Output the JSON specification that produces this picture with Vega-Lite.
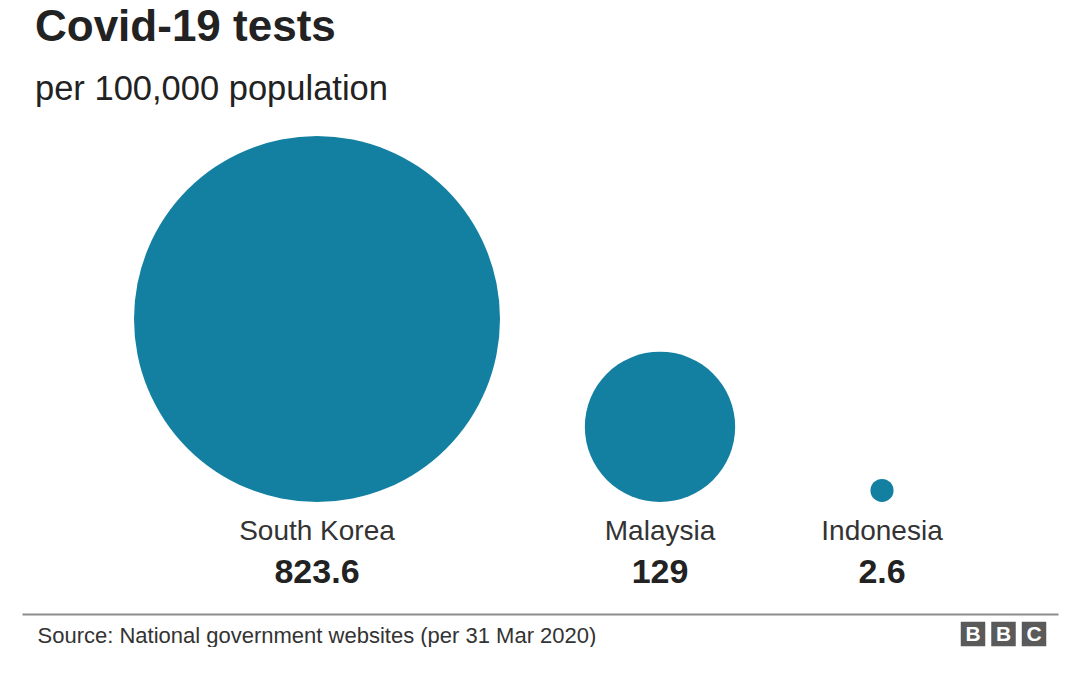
{
  "$schema": "https://vega.github.io/schema/vega-lite/v6.json",
  "width": 1080,
  "height": 494,
  "padding": {"top": 5, "left": 0, "right": 0, "bottom": 0},
  "autosize": {"type": "pad"},
  "background": "white",
  "config": {"view": {"stroke": null}},
  "title": {
    "text": "Covid-19 tests",
    "subtitle": "per 100,000 population",
    "anchor": "start",
    "frame": "group",
    "dx": 35,
    "offset": 14,
    "font": "Liberation Sans",
    "fontSize": 44,
    "fontWeight": "bold",
    "color": "#222222",
    "subtitleFont": "Liberation Sans",
    "subtitleFontSize": 34.5,
    "subtitleColor": "#222222",
    "subtitlePadding": 23
  },
  "datasets": {
    "tests": [
      {"country": "South Korea", "tests": 823.6},
      {"country": "Malaysia", "tests": 129},
      {"country": "Indonesia", "tests": 2.6}
    ],
    "logo": [
      {"id": "b1", "letter": "B"},
      {"id": "b2", "letter": "B"},
      {"id": "c", "letter": "C"}
    ]
  },
  "resolve": {"scale": {"x": "independent"}, "axis": {"x": "independent"}},
  "layer": [
    {
      "data": {"name": "tests"},
      "encoding": {
        "x": {
          "field": "tests",
          "type": "quantitative",
          "scale": {"domain": [0, 2.6, 129, 823.6, 1000], "range": [1058, 882, 660, 317, 22], "nice": false, "zero": false},
          "axis": {
            "orient": "bottom",
            "labels": false,
            "ticks": false,
            "grid": false,
            "domain": true,
            "domainColor": "#8c8c8c",
            "domainWidth": 2,
            "title": "Source: National government websites (per 31 Mar 2020)",
            "titleFont": "Liberation Sans",
            "titleFontSize": 22,
            "titleFontWeight": "normal",
            "titleColor": "#333333",
            "titleAlign": "left",
            "titleAnchor": "start",
            "titleBaseline": "alphabetic",
            "titleX": 37,
            "titleY": 28
          }
        },
        "y": {
          "field": "tests",
          "type": "quantitative",
          "scale": {"type": "pow", "exponent": 0.48, "domain": [0, 823.6], "range": [382, 199], "nice": false, "zero": true},
          "axis": null
        }
      },
      "layer": [
        {
          "mark": {"type": "circle", "opacity": 1, "color": "#1380A1"},
          "encoding": {
            "size": {
              "field": "tests",
              "type": "quantitative",
              "scale": {"type": "pow", "exponent": 0.96, "domain": [0, 823.6], "range": [0, 133956], "zero": true, "nice": false},
              "legend": null
            }
          }
        },
        {
          "mark": {"type": "text", "font": "Liberation Sans", "fontSize": 28, "color": "#333333", "align": "center", "baseline": "alphabetic", "dy": 38},
          "encoding": {
            "y": {"datum": 0, "type": "quantitative"},
            "text": {"field": "country", "type": "nominal"}
          }
        },
        {
          "mark": {"type": "text", "font": "Liberation Sans", "fontSize": 34, "fontWeight": "bold", "color": "#222222", "align": "center", "baseline": "alphabetic", "dy": 81},
          "encoding": {
            "y": {"datum": 0, "type": "quantitative"},
            "text": {"field": "tests", "type": "quantitative", "format": ","}
          }
        }
      ]
    },
    {
      "data": {"name": "logo"},
      "encoding": {
        "x": {
          "field": "id",
          "type": "nominal",
          "scale": {"type": "point", "domain": ["b1", "b2", "c"], "range": [973, 1034], "padding": 0},
          "axis": null
        },
        "y": {"datum": 0, "type": "quantitative"}
      },
      "layer": [
        {
          "mark": {"type": "square", "filled": true, "opacity": 1, "color": "#5a5a5a", "size": 600},
          "encoding": {"yOffset": {"value": 132}}
        },
        {
          "mark": {"type": "text", "font": "Liberation Sans", "fontSize": 21, "fontWeight": "bold", "color": "white", "align": "center", "baseline": "middle", "dy": 133},
          "encoding": {"text": {"field": "letter", "type": "nominal"}}
        }
      ]
    }
  ]
}
